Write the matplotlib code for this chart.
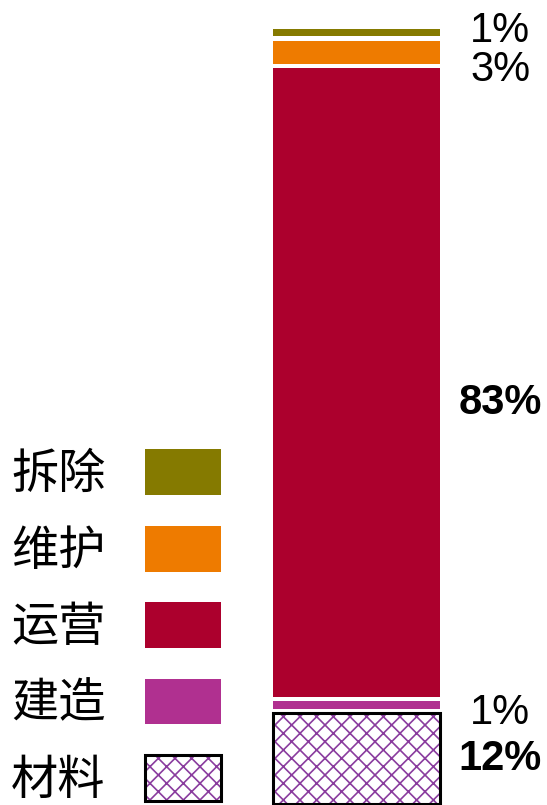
import numpy as np
import matplotlib.pyplot as plt
from matplotlib.legend_handler import HandlerTuple

plt.rcParams['font.family'] = ['Liberation Sans', 'Noto Sans CJK SC']
plt.rcParams['hatch.linewidth'] = 1.2

# life-cycle stages, bottom to top of the stacked bar
stages = ['材料', '建造', '运营', '维护', '拆除']
shares = [12, 1, 83, 3, 1]
share_labels = ['12%', '1%', '83%', '3%', '1%']
bold_label = [True, False, True, False, False]

colors = ['white', '#B03090', '#AC002D', '#EE7B00', '#857A00']
hatch_color = '#8A3C9E'
gap = 0.6  # white space between segments, in % units
nudge = [0.0, -1.06, -2.76, -2.3, 0.26]  # label offsets so they don't collide

fig = plt.figure(figsize=(5.47, 8.05), dpi=100)
ax = fig.add_axes([0, 0, 1, 1])
ax.set_axis_off()

bottoms = np.concatenate([[0], np.cumsum(shares)[:-1]]) + gap * np.arange(len(shares))

handles = []
for i, (stage, s, b) in enumerate(zip(stages, shares, bottoms)):
    if i == 0:
        h1 = ax.bar(0, s, width=1, bottom=b, color='white', edgecolor=hatch_color,
                    hatch='xx', linewidth=0)[0]
        h2 = ax.bar(0, s, width=1, bottom=b, fill=False, edgecolor='black', linewidth=2.2)[0]
        handles.append((h1, h2))
    else:
        h = ax.bar(0, s, width=1, bottom=b, color=colors[i], linewidth=0)[0]
        handles.append(h)

    ax.text(0.86, b + s / 2 + nudge[i], share_labels[i], ha='center', va='center',
            fontsize=30, fontweight='bold' if bold_label[i] else 'normal')

ax.set_xlim(-2.135, 1.14)
ax.set_ylim(-0.13, 106.21)

leg = ax.legend(handles[::-1], stages[::-1], loc='lower left',
                bbox_to_anchor=(0.02, 0.0), bbox_transform=fig.transFigure,
                frameon=False, markerfirst=False, borderpad=0, borderaxespad=0,
                handlelength=1.61, handleheight=1.12, handletextpad=0.83,
                labelspacing=0.56, prop={'family': 'Noto Sans CJK SC', 'size': 34},
                handler_map={tuple: HandlerTuple(ndivide=1, pad=0)})

fig.savefig('out.png', dpi=100)
